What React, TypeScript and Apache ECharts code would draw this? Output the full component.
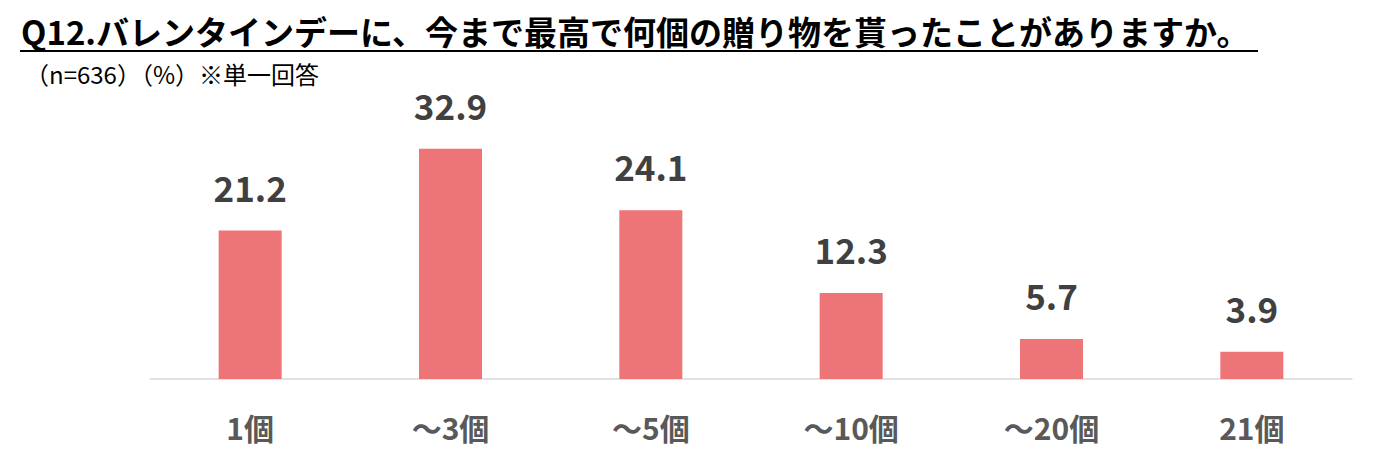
import { useEffect, useRef } from 'react';
import * as echarts from 'echarts';

const titleText = 'Q12.バレンタインデーに、今まで最高で何個の贈り物を貰ったことがありますか。';
const subtitleText = '（n=636）（%）※単一回答';
const categories = ['1個', '～3個', '～5個', '～10個', '～20個', '21個'];
const values = [21.2, 32.9, 24.1, 12.3, 5.7, 3.9];

const FONT = '"Noto Sans CJK JP", "Noto Sans", sans-serif';

const App = () => {
  const chartRef = useRef<HTMLDivElement>(null);

  useEffect(() => {
    if (!chartRef.current) return;
    const chart = echarts.init(chartRef.current, undefined, { renderer: 'svg' });

    chart.setOption({
      animation: false,
      backgroundColor: '#ffffff',
      textStyle: { fontFamily: FONT },
      grid: { left: 150, right: 47, top: 99, bottom: 80 },
      xAxis: {
        type: 'category',
        data: categories,
        axisLine: { lineStyle: { color: '#d9d9d9', width: 1.5 } },
        axisTick: { show: false },
        axisLabel: {
          margin: 33,
          fontSize: 30,
          fontWeight: 'bold',
          color: '#595959',
          fontFamily: FONT
        }
      },
      yAxis: {
        type: 'value',
        min: 0,
        max: 40,
        show: false,
        splitLine: { show: false }
      },
      series: [
        {
          type: 'bar',
          data: values,
          barWidth: 63,
          itemStyle: { color: '#EE7577' },
          label: {
            show: true,
            position: 'top',
            distance: 27,
            fontSize: 35,
            fontWeight: 'bold',
            color: '#404040',
            fontFamily: FONT,
            formatter: (p: any) => Number(p.value).toFixed(1)
          }
        }
      ],
      graphic: [
        {
          type: 'text',
          left: 21,
          top: 14,
          style: {
            text: titleText,
            font: `bold 33px ${FONT}`,
            lineHeight: 33,
            fill: '#000000'
          }
        },
        {
          type: 'line',
          shape: { x1: 20, y1: 51, x2: 1258, y2: 51 },
          style: { stroke: '#000000', lineWidth: 2 }
        },
        {
          type: 'text',
          left: 25,
          top: 61,
          style: {
            text: subtitleText,
            font: `24px ${FONT}`,
            lineHeight: 24,
            fill: '#000000'
          }
        }
      ]
    });

    return () => {
      chart.dispose();
    };
  }, []);

  return (
    <div
      ref={chartRef}
      style={{ position: 'fixed', left: 0, top: 0, width: '1399px', height: '459px' }}
    />
  );
};

export default App;
